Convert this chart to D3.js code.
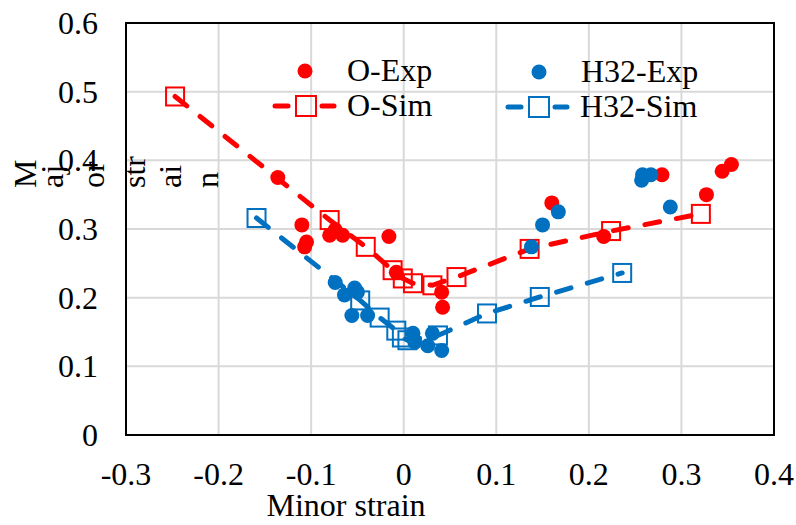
<!DOCTYPE html>
<html>
<head>
<meta charset="utf-8">
<script src="https://cdn.jsdelivr.net/npm/d3@7"></script>
<style>
  body { margin: 0; background: #fff; }
</style>
</head>
<body>
<script>
// values
var xTicks = [-0.3, -0.2, -0.1, 0, 0.1, 0.2, 0.3, 0.4];
var yTicks = [0, 0.1, 0.2, 0.3, 0.4, 0.5, 0.6];

var oExp = [
  [-0.136, 0.375], [-0.110, 0.306], [-0.105, 0.281], [-0.107, 0.274],
  [-0.080, 0.291], [-0.074, 0.299], [-0.066, 0.291], [-0.016, 0.289],
  [-0.008, 0.237], [0.041, 0.208], [0.042, 0.186],
  [0.160, 0.338], [0.216, 0.289], [0.279, 0.379], [0.327, 0.350],
  [0.344, 0.384], [0.354, 0.394]
];
var oSim = [
  [-0.247, 0.493], [-0.080, 0.313], [-0.041, 0.274], [-0.012, 0.240],
  [-0.001, 0.228], [0.010, 0.221], [0.031, 0.218], [0.057, 0.230],
  [0.136, 0.271], [0.224, 0.297], [0.321, 0.322]
];
var hExp = [
  [-0.074, 0.222], [-0.064, 0.204], [-0.053, 0.214], [-0.050, 0.208],
  [-0.056, 0.174], [-0.039, 0.174], [0.010, 0.148], [0.012, 0.135],
  [0.026, 0.130], [0.031, 0.148], [0.041, 0.123],
  [0.138, 0.274], [0.150, 0.306], [0.167, 0.325], [0.257, 0.371],
  [0.258, 0.379], [0.267, 0.379], [0.288, 0.332]
];
var hSim = [
  [-0.159, 0.316], [-0.047, 0.196], [-0.026, 0.171], [-0.008, 0.152],
  [-0.002, 0.142], [0.004, 0.138], [0.037, 0.145], [0.090, 0.177],
  [0.147, 0.201], [0.236, 0.236]
];
// the y title is broken into pieces in the original
var yTitleParts = ["M", "aj", "or", "str", "ai", "n"];
var yTitleX = [36, 63, 104, 145, 181, 218];

var red = "#ff0000", blue = "#0070c0";
var serif = "'Liberation Serif', 'Times New Roman', serif";
var fs = 32;

var svg = d3.select("body").append("svg").attr("width", 796).attr("height", 525)
    .attr("font-family", serif);

var x = d3.scaleLinear().domain([-0.3, 0.4]).range([126, 774]);
var y = d3.scaleLinear().domain([0, 0.6]).range([435, 23]);

// grid
svg.append("g").selectAll("line.gx").data(xTicks).enter().append("line")
    .attr("x1", d => x(d)).attr("x2", d => x(d)).attr("y1", 23).attr("y2", 435)
    .attr("stroke", "#d9d9d9").attr("stroke-width", 2);
svg.append("g").selectAll("line.gy").data(yTicks).enter().append("line")
    .attr("x1", 126).attr("x2", 774).attr("y1", d => y(d)).attr("y2", d => y(d))
    .attr("stroke", "#d9d9d9").attr("stroke-width", 2);

svg.append("rect").attr("x", 126).attr("y", 23).attr("width", 648).attr("height", 412)
    .attr("fill", "none").attr("stroke", "#000").attr("stroke-width", 2);

// tick labels
svg.append("g").selectAll("text").data(xTicks).enter().append("text")
    .attr("x", d => x(d)).attr("y", 485).attr("text-anchor", "middle")
    .attr("font-family", serif).attr("font-size", fs).text(d => String(d));
svg.append("g").selectAll("text").data(yTicks).enter().append("text")
    .attr("x", 98).attr("y", d => y(d) + 11).attr("text-anchor", "end")
    .attr("font-family", serif).attr("font-size", fs).text(d => String(d));

svg.append("text").attr("x", 346).attr("y", 516).attr("text-anchor", "middle")
    .attr("font-family", serif).attr("font-size", fs).text("Minor strain");

yTitleParts.forEach(function(t, i) {
  svg.append("text").attr("transform", "translate(" + yTitleX[i] + ",188) rotate(-90)")
      .attr("font-family", serif).attr("font-size", fs).text(t);
});

var line = d3.line().x(d => x(d[0])).y(d => y(d[1]));

function dots(data, color) {
  svg.append("g").selectAll("circle").data(data).enter().append("circle")
      .attr("cx", d => x(d[0])).attr("cy", d => y(d[1])).attr("r", 7.5)
      .attr("fill", color);
}
function sim(data, color) {
  svg.append("path").attr("d", line(data)).attr("fill", "none")
      .attr("stroke", color).attr("stroke-width", 5)
      .attr("stroke-dasharray", "15 17").attr("stroke-linecap", "round");
  svg.append("g").selectAll("rect").data(data).enter().append("rect")
      .attr("x", d => x(d[0]) - 9).attr("y", d => y(d[1]) - 9)
      .attr("width", 18).attr("height", 18)
      .attr("fill", "none").attr("stroke", color).attr("stroke-width", 2);
}

dots(oExp, red);
sim(oSim, red);
dots(hExp, blue);
sim(hSim, blue);

// legend
function legDot(cx, cy, color, label) {
  svg.append("circle").attr("cx", cx).attr("cy", cy).attr("r", 7.5).attr("fill", color);
  svg.append("text").attr("x", cx + 42).attr("y", cy + 10)
      .attr("font-family", serif).attr("font-size", fs).text(label);
}
function legSim(cx, cy, color, label) {
  [[-33, -16], [14, 30]].forEach(function(s) {
    svg.append("line").attr("x1", cx + s[0] + 2).attr("x2", cx + s[1] - 2)
        .attr("y1", cy).attr("y2", cy).attr("stroke", color).attr("stroke-width", 5)
        .attr("stroke-linecap", "round");
  });
  svg.append("rect").attr("x", cx - 10).attr("y", cy - 10).attr("width", 20).attr("height", 20)
      .attr("fill", "none").attr("stroke", color).attr("stroke-width", 2);
  svg.append("text").attr("x", cx + 41).attr("y", cy + 10)
      .attr("font-family", serif).attr("font-size", fs).text(label);
}
legDot(305, 71, red, "O-Exp");
legDot(539, 72, blue, "H32-Exp");
legSim(306, 106, red, "O-Sim");
legSim(539, 107, blue, "H32-Sim");
</script>
</body>
</html>
